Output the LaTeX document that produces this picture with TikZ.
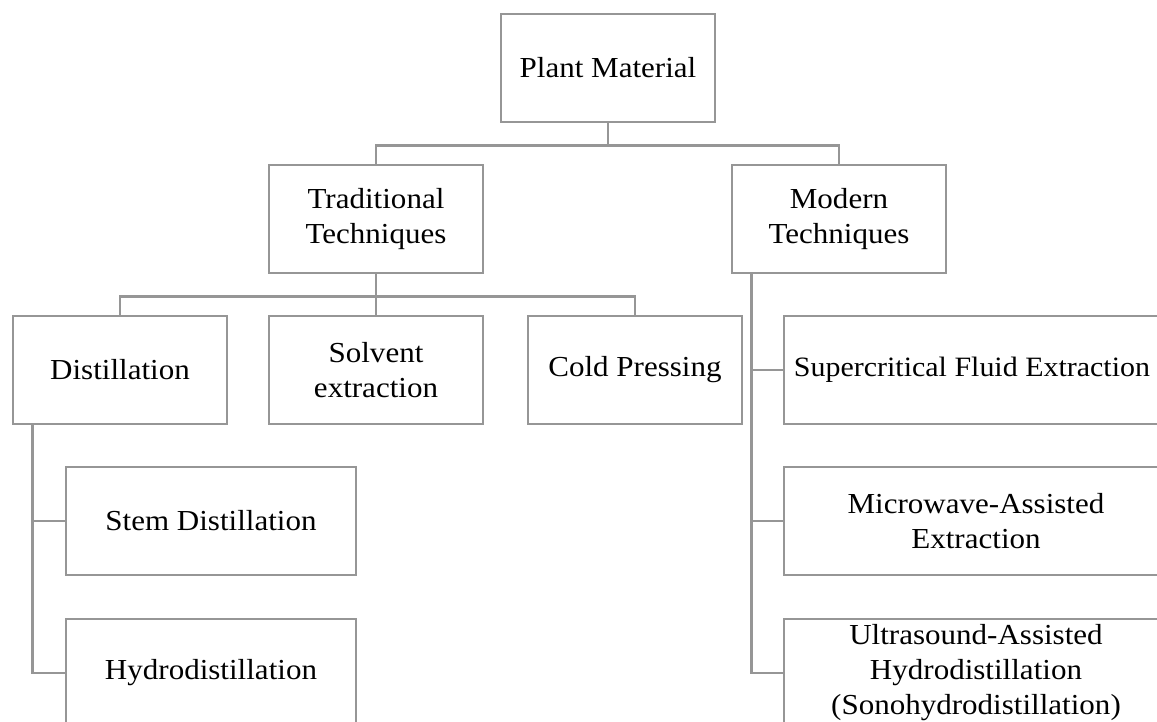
\documentclass[tikz,border=0pt]{standalone}
\usepackage{fontspec}
\setmainfont{Liberation Serif}[FakeStretch=1.07]
\usetikzlibrary{positioning}
\begin{document}
\begin{tikzpicture}[x=1pt,y=-1pt,line join=miter,font=\fontsize{29}{35}\selectfont]
			\tikzset{
				box/.style={draw=linegray,line width=2.6pt,minimum width=214pt,minimum height=108pt,align=center,inner sep=0pt},
				wide/.style={box,minimum width=290pt},
				wider/.style={box,minimum width=384pt},
				link/.style={draw=linegray,line width=2.6pt}
			}
			\definecolor{linegray}{RGB}{150,150,150}
			\useasboundingbox (0,0) rectangle (1157,722);
			\def\d{22} % drop between levels
			\def\t{21} % inset of side trunks
			% boxes
			\node[box] (plant) at (608,68) {Plant Material};
			\node[box] (trad) at (376,219) {Traditional\\Techniques};
			\node[box] (modern) at (839,219) {Modern\\Techniques};
			\node[box] (distil) at (120,370) {Distillation};
			\node[box] (solvent) at (376,370) {Solvent\\extraction};
			\node[box] (cold) at (635,370) {Cold Pressing};
			\node[wide] (stem) at (211,521) {Stem Distillation};
			\node[wide] (hydro) at (211,673) {Hydrodistillation};
			\node[wider,font=\fontsize{28}{35}\selectfont] (scf) at (976,370) {\hspace*{-8pt}Supercritical Fluid Extraction};
			\node[wider] (mae) at (976,521) {Microwave-Assisted\\Extraction};
			\node[wider] (uahd) at (976,673) {Ultrasound-Assisted\\Hydrodistillation\\(Sonohydrodistillation)};
			% top level
			\path[link] (plant.south) -- ++(0,\d) -| (trad.north);
			\path[link] (plant.south) -- ++(0,\d) -| (modern.north);
			% traditional branch
			\path[link] (trad.south) -- ++(0,\d) -| (distil.north);
			\path[link] (trad.south) -- ++(0,\d) -| (solvent.north);
			\path[link] (trad.south) -- ++(0,\d) -| (cold.north);
			% side trunks
			\path (distil.south west) ++(\t,0) coordinate (dtop);
			\path (modern.south west) ++(\t,0) coordinate (mtop);
			\path[link] (dtop) |- (stem.west);
			\path[link] (dtop) |- (hydro.west);
			\path[link] (mtop) |- (scf.west);
			\path[link] (mtop) |- (mae.west);
			\path[link] (mtop) |- (uahd.west);
		\end{tikzpicture}
\end{document}
